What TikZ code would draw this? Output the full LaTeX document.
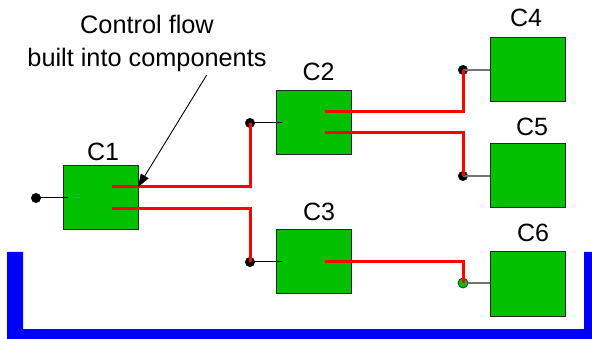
\documentclass[tikz,border=0pt]{standalone}
\usepackage{fontspec}
\setmainfont{Liberation Sans}
\usetikzlibrary{arrows.meta}
\definecolor{boxgreen}{RGB}{0,192,0}
\definecolor{uline}{RGB}{0,0,255}
\begin{document}
\begin{tikzpicture}[x=1pt,y=-1pt,
  comp/.style={draw=black!85,line width=1pt,fill=boxgreen,minimum width=75pt,minimum height=64pt,inner sep=0pt,outer sep=0pt},
  lbl/.style={font=\fontsize{25}{29}\selectfont,inner sep=0pt},
  port/.style={circle,fill=black,draw=black,minimum size=9.5pt,inner sep=0pt},
  gport/.style={circle,fill=boxgreen,draw=black!80,line width=0.8pt,minimum size=10pt,inner sep=0pt},
  wire/.style={draw=black,line width=1pt},
  gwire/.style={draw=black!55,line width=1.2pt},
  flow/.style={draw=red,line width=3pt},
  note/.style={-{Triangle[length=13pt,width=9pt]},line width=0.9pt}]
\useasboundingbox (0,0) rectangle (592,339);
% blue U
\fill[uline] (7,252) -- (23,252) -- (23,329) -- (584,329) -- (584,252) -- (592,252) -- (592,339) -- (7,339) -- cycle;
% components
\node[comp] (c1) at (100.5,197.5) {};
\node[comp] (c2) at (314,123) {};
\node[comp] (c3) at (314,262) {};
\node[comp] (c4) at (527.5,69.5) {};
\node[comp] (c5) at (527.5,176) {};
\node[comp] (c6) at (527.5,284) {};
% labels
\node[lbl] (l1) at (103,151.5) {C1};
\node[lbl] (l2) at (318.5,72) {C2};
\node[lbl] (l3) at (319,211.5) {C3};
\node[lbl] (l4) at (526,18) {C4};
\node[lbl] (l5) at (532,127) {C5};
\node[lbl] (l6) at (533,233) {C6};
% inner coordinates
\coordinate (c1in) at (68,198);
\coordinate (c1a) at (112,187);
\coordinate (c1b) at (112,209);
\coordinate (c2in) at (282,123);
\coordinate (c2a) at (325,112);
\coordinate (c2b) at (325,133);
\coordinate (c3in) at (282,262);
\coordinate (c3a) at (325,262);
% ports
\node[port] (p1) at (36,198) {};
\node[port] (p2) at (250,123) {};
\node[port] (p3) at (250,262) {};
\node[port] (p4) at (463,70) {};
\node[port] (p5) at (463,176) {};
\node[gport] (p6) at (463,283) {};
% port wires
\draw[wire] (p1.center) -- (c1in);
\draw[wire] (p2.center) -- (c2in);
\draw[wire] (p3.center) -- (c3in);
\draw[gwire] (p4.center) -- (c4.west |- p4);
\draw[gwire] (p5.center) -- (c5.west |- p5);
\draw[gwire] (p6.east) -- (c6.west |- p6);
% control flow
\draw[flow] (c1a) -| (p2.center);
\draw[flow] (c1b) -| (p3.center);
\draw[flow] (c2a) -| (p4.center);
\draw[flow] (c2b) -| (p5.center);
\draw[flow] (c3a) -| (p6.center);
% note
\node[font=\fontsize{25.3}{33}\selectfont,align=center,inner sep=0pt] (note) at (147,43) {Control flow\\built into components};
\coordinate (ns) at (206.7,75);
\draw[note] (ns) -- (c1.east |- c1a);
\end{tikzpicture}
\end{document}
